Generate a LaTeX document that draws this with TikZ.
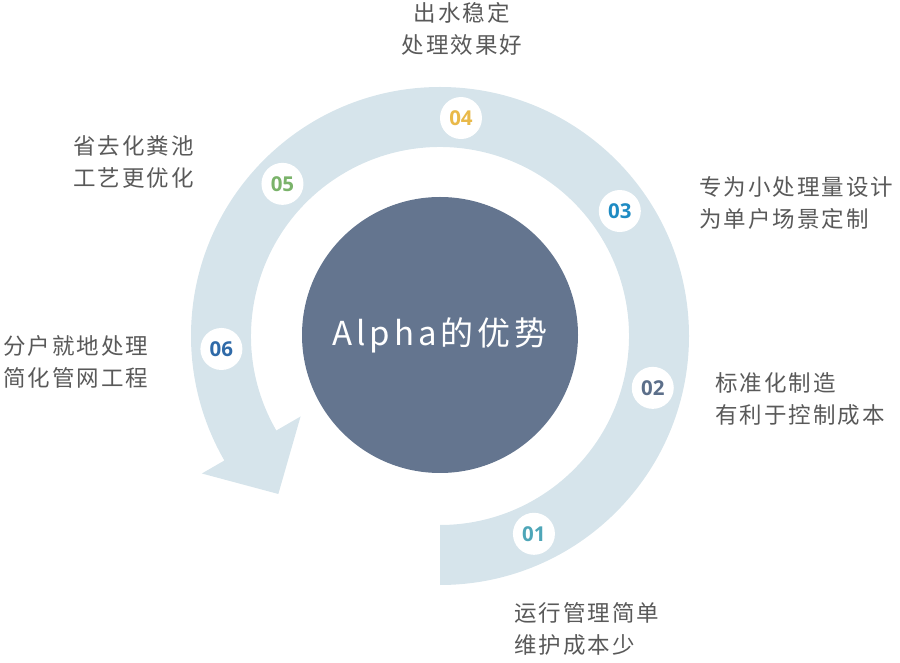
\documentclass[tikz,border=0pt]{standalone}
\usepackage{fontspec}
\usetikzlibrary{calc}
\setmainfont{Noto Sans CJK SC}
\newfontfamily\cjk[LetterSpace=9]{Noto Sans CJK SC}
\newfontfamily\cjkc[LetterSpace=12]{Noto Sans CJK SC}
\IfFontExistsTF{Noto Sans Bold}{\newfontfamily\numfont{Noto Sans Bold}}{%
  \IfFontExistsTF{Open Sans Bold}{\newfontfamily\numfont{Open Sans Bold}}{%
    \newfontfamily\numfont[FakeBold=3]{Noto Sans}}}
\definecolor{bandc}{HTML}{D6E4EB}
\definecolor{hubc}{HTML}{64758F}
\definecolor{txtgray}{HTML}{595959}
\definecolor{cA}{HTML}{4EA6B8}
\definecolor{cB}{HTML}{5C6F8A}
\definecolor{cC}{HTML}{1E8BC3}
\definecolor{cD}{HTML}{E9B949}
\definecolor{cE}{HTML}{7AB36A}
\definecolor{cF}{HTML}{2F6AA8}
\begin{document}
\begin{tikzpicture}[x=1pt,y=1pt,
  txt/.style={font=\cjk\fontsize{22.5}{32}\selectfont, text=txtgray, inner sep=0pt, align=left, anchor=west},
  badge/.style={circle, fill=white, minimum size=42pt, inner sep=0pt, font=\numfont\fontsize{20.5}{20.5}\selectfont}]
\useasboundingbox (0,0) rectangle (900,662);
\coordinate (C) at (440,326);
\coordinate (ob) at ($(C)+(210:275)$);
\coordinate (ib) at ($(C)+(210:161)$);
\coordinate (tip) at ($(C)+(210:219)+(300:56)$);
\coordinate (ic) at ($(C)+(210:189)$);
\fill[bandc] ($(C)+(-90:249)$) arc[start angle=-90,end angle=210,radius=249]
  -- (ob) -- (tip) -- (ib) -- (ic)
  arc[start angle=210,end angle=-90,radius=189] -- cycle;
\node[circle, fill=hubc, minimum size=276pt, inner sep=0pt] (hub) at (440,327) {};
\node[font=\cjkc\fontsize{33}{33}\selectfont, text=white, inner sep=0pt] (title) at (hub) {Alpha的优势};
\node[badge, text=cA] (b1) at ($(C)+(-64.6:219)$) {01};
\node[badge, text=cB] (b2) at ($(C)+(-13.7:219)$) {02};
\node[badge, text=cC] (b3) at ($(C)+(34.8:219)$) {03};
\node[badge, text=cD] (b4) at ($(C)+(84.5:219)$) {04};
\node[badge, text=cE] (b5) at ($(C)+(136:219)$) {05};
\node[badge, text=cF] (b6) at ($(C)+(183.4:219)$) {06};
\node[txt, anchor=center, align=center] (t4) at (462,633) {出水稳定\\处理效果好};
\node[txt] (t3) at (699,459) {专为小处理量设计\\为单户场景定制};
\node[txt] (t2) at (715,262.5) {标准化制造\\有利于控制成本};
\node[txt] (t5) at (73,500.5) {省去化粪池\\工艺更优化};
\node[txt] (t6) at (3,300) {分户就地处理\\简化管网工程};
\node[txt] (t1) at (514,33.5) {运行管理简单\\维护成本少};
\end{tikzpicture}
\end{document}
